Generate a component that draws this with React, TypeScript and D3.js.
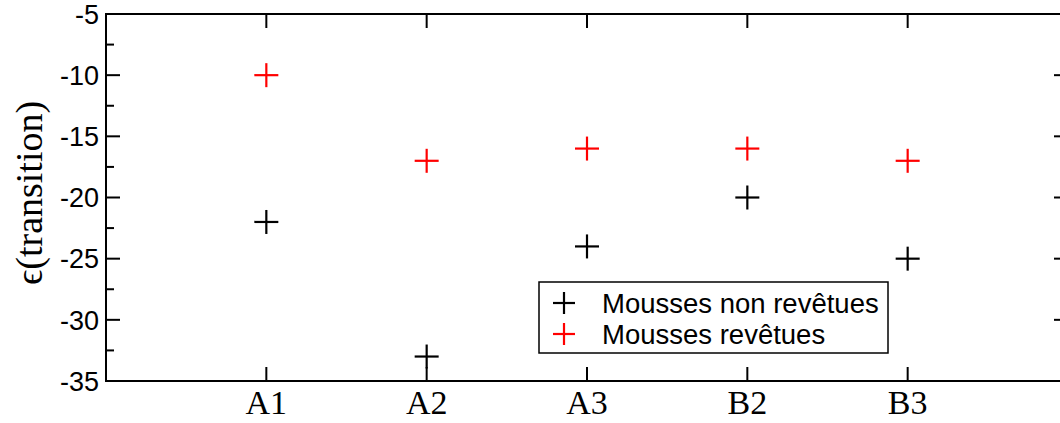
import React from "react";
import * as d3 from "d3";

const categories = ["A1", "A2", "A3", "B2", "B3"];
const uncoated = [-22, -33, -24, -20, -25];
const coated = [-10, -17, -16, -16, -17];
const yTicks = [-35, -30, -25, -20, -15, -10, -5];
const yMinor = [-32.5, -27.5, -22.5, -17.5, -12.5, -7.5];
const seriesNames = ["Mousses non revêtues", "Mousses revêtues"];
const seriesColors = ["#000000", "#ff0000"];

const W = 1060;
const H = 423;
const left = 106;
const right = 1068;
const top = 14;
const bottom = 381;

export default function App() {
  const x = d3.scaleLinear().domain([0, 6]).range([left, right]);
  const y = d3.scaleLinear().domain([-35, -5]).range([bottom, top]);
  const series = [uncoated, coated];
  const ms = 12;
  const plus = (cx: number, cy: number, color: string, s: number, key: string) => (
    <g key={key} stroke={color} strokeWidth={2.2}>
      <line x1={cx - s} x2={cx + s} y1={cy} y2={cy} />
      <line x1={cx} x2={cx} y1={cy - s} y2={cy + s} />
    </g>
  );
  return (
    <svg
      width={W}
      height={H}
      style={{ position: "absolute", left: 0, top: 0, display: "block", background: "#fff" }}
    >
      <rect x={left} y={top} width={right - left} height={bottom - top} fill="none" stroke="#000" strokeWidth={2} />
      {yTicks.map((t) => (
        <g key={"yt" + t}>
          <line x1={left} x2={left + 14} y1={y(t)} y2={y(t)} stroke="#000" strokeWidth={2} />
          <line x1={right} x2={right - 14} y1={y(t)} y2={y(t)} stroke="#000" strokeWidth={2} />
          <text
            x={99}
            y={y(t)}
            dy="0.36em"
            textAnchor="end"
            fontFamily="'Liberation Sans', Arial, sans-serif"
            fontSize={27}
          >
            {t}
          </text>
        </g>
      ))}
      {yMinor.map((t) => (
        <g key={"ym" + t}>
          <line x1={left} x2={left + 8} y1={y(t)} y2={y(t)} stroke="#000" strokeWidth={2} />
          <line x1={right} x2={right - 8} y1={y(t)} y2={y(t)} stroke="#000" strokeWidth={2} />
        </g>
      ))}
      {categories.map((c, i) => (
        <g key={"xt" + c}>
          <line x1={x(i + 1)} x2={x(i + 1)} y1={bottom} y2={bottom - 14} stroke="#000" strokeWidth={2} />
          <line x1={x(i + 1)} x2={x(i + 1)} y1={top} y2={top + 14} stroke="#000" strokeWidth={2} />
          <text
            x={x(i + 1)}
            y={414}
            textAnchor="middle"
            fontFamily="'Liberation Serif', serif"
            fontSize={34}
          >
            {c}
          </text>
        </g>
      ))}
      <text
        transform={`translate(42,193) rotate(-90)`}
        textAnchor="middle"
        fontFamily="'Liberation Serif', serif"
        fontSize={38}
      >
        ϵ(transition)
      </text>
      {series.map((vals, si) =>
        vals.map((v, i) => plus(x(i + 1), y(v), seriesColors[si], ms, `p${si}-${i}`))
      )}
      <rect x={539} y={282} width={349} height={71} fill="#fff" stroke="#000" strokeWidth={1.5} />
      {seriesNames.map((n, i) => (
        <g key={n}>
          {plus(564, 303 + i * 31, seriesColors[i], 11, "l" + i)}
          <text
            x={602}
            y={303 + i * 31}
            dy="0.36em"
            fontFamily="'Liberation Sans', Arial, sans-serif"
            fontSize={27.5}
          >
            {n}
          </text>
        </g>
      ))}
    </svg>
  );
}
